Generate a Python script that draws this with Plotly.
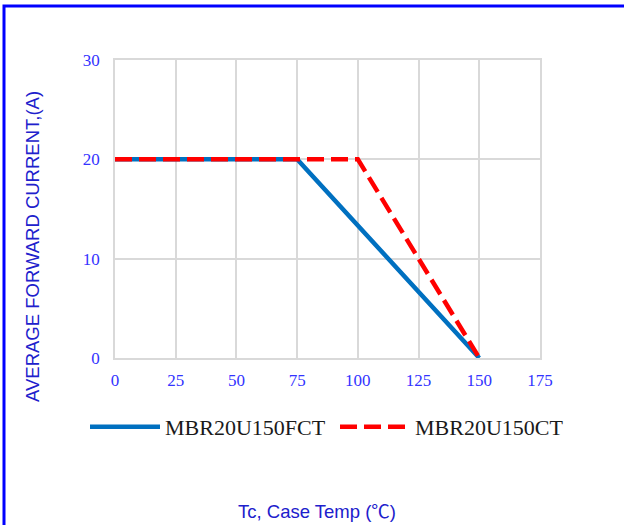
import plotly.graph_objects as go

# Data
temp_fct = [0, 75, 150]
curr_fct = [20, 20, 0]
temp_ct = [0, 100, 150]
curr_ct = [20, 20, 0]
x_ticks = [0, 25, 50, 75, 100, 125, 150, 175]
y_ticks = [0, 10, 20, 30]
series_names = ["MBR20U150FCT", "MBR20U150CT"]

fig = go.Figure()
fig.add_trace(go.Scatter(x=temp_fct, y=curr_fct, mode="lines", name=series_names[0],
                         line=dict(color="#0070c0", width=4.5), legend="legend"))
fig.add_trace(go.Scatter(x=temp_ct, y=curr_ct, mode="lines", name=series_names[1],
                         line=dict(color="#ff0000", width=4.5, dash="17px,7px"), legend="legend2"))

tickfont = dict(family="Liberation Serif, Times New Roman, serif", size=17, color="#3333ff")
fig.update_xaxes(range=[0, 175], tickvals=x_ticks, showgrid=True, gridcolor="#d9d9d9", gridwidth=1.5,
                 zeroline=False, showline=True, linecolor="#d9d9d9", linewidth=1.5, mirror=True,
                 tickfont=tickfont, ticks="", ticklabelstandoff=6)
fig.update_yaxes(range=[0, 30], tickvals=y_ticks, showgrid=True, gridcolor="#d9d9d9", gridwidth=1.5,
                 zeroline=False, showline=True, linecolor="#d9d9d9", linewidth=1.5, mirror=True,
                 tickfont=tickfont, ticks="", ticklabelstandoff=10)

legfont = dict(family="Liberation Serif, Times New Roman, serif", size=22, color="#1a1a1a")
leg_common = dict(orientation="h", xref="container", yref="container", xanchor="left",
                  y=1 - 427 / 525, yanchor="middle", font=legfont, itemwidth=70,
                  bgcolor="rgba(0,0,0,0)")

title_font = dict(family="Liberation Sans, Arial, sans-serif", size=18.5, color="#2020cc")

fig.update_layout(
    width=624, height=525,
    margin=dict(l=115, r=84, t=60, b=167, autoexpand=False),
    plot_bgcolor="white", paper_bgcolor="white",
    showlegend=True,
    legend=dict(x=85 / 624, **leg_common),
    legend2=dict(x=335 / 624, **leg_common),
    annotations=[
        dict(text="AVERAGE FORWARD CURRENT,(A)", xref="paper", yref="paper",
             x=(33 - 115) / 425, y=(358 - 247) / 298, textangle=-90, showarrow=False,
             xanchor="center", yanchor="middle", font=title_font),
        dict(text="Tc, Case Temp (<span style='font-family:Noto Sans CJK SC'>℃</span>)",
             xref="paper", yref="paper",
             x=(317 - 115) / 425, y=(358 - 510) / 298, showarrow=False,
             xanchor="center", yanchor="middle", font=title_font),
    ],
    shapes=[
        dict(type="rect", xref="paper", yref="paper",
             x0=(4 - 115) / 425, x1=(640 - 115) / 425,
             y0=(358 - 540) / 298, y1=(358 - 6) / 298,
             line=dict(color="#0000ff", width=3), fillcolor="rgba(0,0,0,0)", layer="above"),
    ],
)

fig.write_html("out.html", config={"displayModeBar": False},
               post_script="document.body.style.margin='0px';")
